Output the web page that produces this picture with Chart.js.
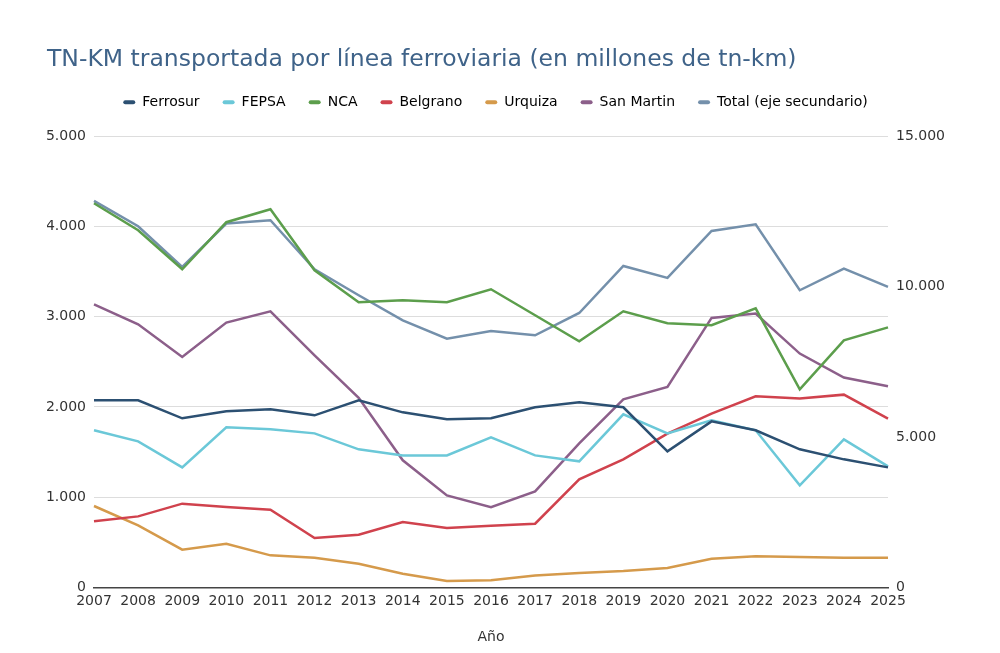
<!DOCTYPE html>
<html>
<head>
<meta charset="utf-8">
<script src="https://cdn.jsdelivr.net/npm/chart.js@4"></script>
<style>
  html, body { margin: 0; padding: 0; background: #fff; }
  #wrap { width: 1000px; height: 653px; }
</style>
</head>
<body>
<div id="wrap"><canvas id="chart"></canvas></div>
<script>
// Data
const years = ["2007", "2008", "2009", "2010", "2011", "2012", "2013", "2014", "2015", "2016",
  "2017", "2018", "2019", "2020", "2021", "2022", "2023", "2024", "2025"];

const ferrosur = [2073, 2073, 1874, 1951, 1973, 1907, 2073, 1940, 1863, 1874, 1996, 2051, 1996, 1508, 1840, 1741, 1530, 1419, 1330];
const fepsa = [1741, 1619, 1330, 1774, 1752, 1707, 1530, 1463, 1463, 1663, 1463, 1397, 1918, 1707, 1851, 1741, 1131, 1641, 1341];
const nca = [4257, 3958, 3525, 4047, 4191, 3514, 3160, 3182, 3160, 3304, 3016, 2727, 3060, 2927, 2905, 3093, 2195, 2738, 2882];
const belgrano = [732, 787, 928, 890, 861, 547, 584, 724, 658, 684, 706, 1197, 1419, 1704, 1926, 2118, 2092, 2136, 1870];
const urquiza = [902, 687, 418, 484, 355, 329, 262, 152, 70, 78, 133, 159, 181, 214, 318, 344, 336, 329, 329];
const sanMartin = [3137, 2916, 2553, 2934, 3060, 2572, 2100, 1408, 1020, 890, 1064, 1597, 2084, 2221, 2986, 3034, 2591, 2325, 2228];
const total = [12848, 12007, 10654, 12095, 12206, 10577, 9712, 8880, 8271, 8526, 8381, 9123, 10687, 10288, 11851, 12073, 9878, 10599, 9989];

const leftTicks = [0, 1000, 2000, 3000, 4000, 5000];
const rightTicks = [0, 5000, 10000, 15000];

const FONT = "'DejaVu Sans', Verdana, sans-serif";

// thousands with a dot, as in the original
function fmt(v) {
  return String(v).replace(/\B(?=(\d{3})+(?!\d))/g, ".");
}

function series(label, data, color, axis) {
  return {
    label: label,
    data: data,
    borderColor: color,
    backgroundColor: color,
    borderWidth: 2.5,
    pointRadius: 0,
    pointHoverRadius: 0,
    tension: 0,
    fill: false,
    yAxisID: axis || "y",
  };
}

// a bit more room between the legend and the plot
const legendSpacer = {
  id: "legendSpacer",
  beforeInit(chart) {
    const fit = chart.legend.fit;
    chart.legend.fit = function () {
      fit.call(this);
      this.height += 17;
    };
  },
};

const ctx = document.getElementById("chart").getContext("2d");
new Chart(ctx, {
  type: "line",
  plugins: [legendSpacer],
  data: {
    labels: years,
    datasets: [
      series("Ferrosur", ferrosur, "#2c5072"),
      series("FEPSA", fepsa, "#6bc8d8"),
      series("NCA", nca, "#5c9e4c"),
      series("Belgrano", belgrano, "#d0424d"),
      series("Urquiza", urquiza, "#d59a4b"),
      series("San Martin", sanMartin, "#8c5f8a"),
      series("Total (eje secundario)", total, "#7490ab", "y2"),
    ],
  },
  options: {
    responsive: true,
    maintainAspectRatio: false,
    animation: false,
    layout: {
      padding: { left: 47, right: 56, top: 46, bottom: 7 },
    },
    plugins: {
      title: {
        display: true,
        text: "TN-KM transportada por línea ferroviaria (en millones de tn-km)",
        align: "start",
        color: "#3f6389",
        font: { family: FONT, size: 23.5, weight: "normal" },
        padding: { top: 0, bottom: -2 },
      },
      legend: {
        position: "top",
        labels: {
          color: "#333",
          font: { family: FONT, size: 14 },
          boxWidth: 12,
          boxHeight: 4,
          padding: 23,
          generateLabels: (chart) => chart.data.datasets.map((ds, i) => ({
            text: ds.label,
            fillStyle: ds.borderColor,
            strokeStyle: ds.borderColor,
            lineWidth: 0,
            borderRadius: 2,
            datasetIndex: i,
            hidden: false,
          })),
        },
      },
      tooltip: { enabled: false },
    },
    scales: {
      x: {
        offset: false,
        grid: { display: false, drawTicks: false },
        border: { display: true, color: "#444", width: 1.5 },
        ticks: {
          color: "#333",
          font: { family: FONT, size: 14 },
          maxRotation: 0,
          autoSkip: false,
          padding: 6,
        },
        title: {
          display: true,
          text: "Año",
          color: "#333",
          font: { family: FONT, size: 14 },
          padding: { top: 13, bottom: 0 },
        },
      },
      y: {
        position: "left",
        min: 0,
        max: 5000,
        afterBuildTicks: (axis) => { axis.ticks = leftTicks.map(v => ({ value: v })); },
        afterFit: (axis) => { axis.width = 47; },
        grid: { color: "#dddddd", drawTicks: false },
        border: { display: false },
        ticks: {
          color: "#333",
          font: { family: FONT, size: 14 },
          padding: 8,
          callback: (v) => fmt(v),
        },
      },
      y2: {
        position: "right",
        min: 0,
        max: 15000,
        afterBuildTicks: (axis) => { axis.ticks = rightTicks.map(v => ({ value: v })); },
        afterFit: (axis) => { axis.width = 56; },
        grid: { display: false, drawTicks: false },
        border: { display: false },
        ticks: {
          color: "#333",
          font: { family: FONT, size: 14 },
          padding: 8,
          callback: (v) => fmt(v),
        },
      },
    },
  },
});
</script>
</body>
</html>
